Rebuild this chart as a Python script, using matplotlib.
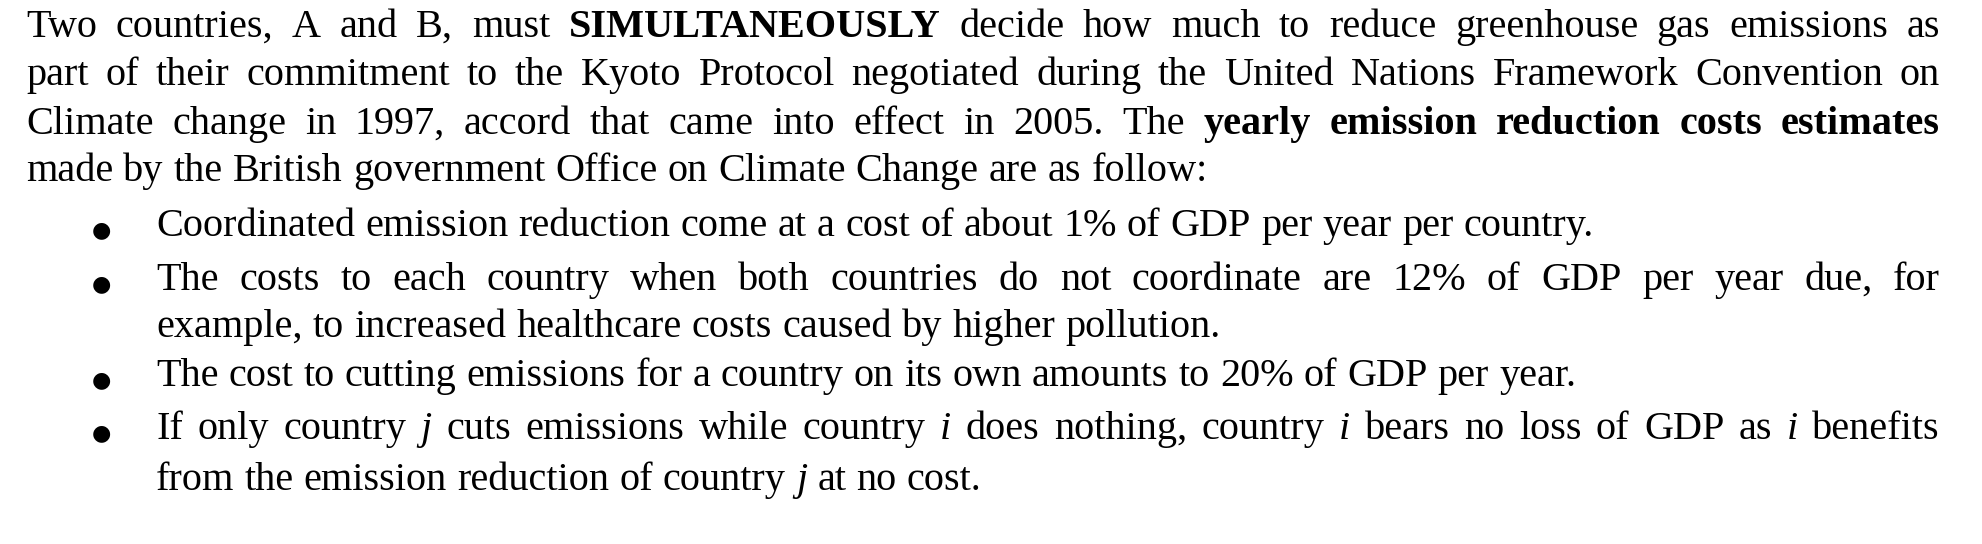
import matplotlib
matplotlib.use("Agg")
import matplotlib.pyplot as plt

W, H = 1982, 544
FS = 29
FAM = "Liberation Serif"

def N(s): return [(w, "n") for w in s.split()]
def B(s): return [(w, "b") for w in s.split()]
def I(s): return [(w, "i") for w in s.split()]

lines = [
    (26, 37, True, N("Two countries, A and B, must") + B("SIMULTANEOUSLY") + N("decide how much to reduce greenhouse gas emissions as")),
    (26, 85, True, N("part of their commitment to the Kyoto Protocol negotiated during the United Nations Framework Convention on")),
    (26, 134, True, N("Climate change in 1997, accord that came into effect in 2005. The") + B("yearly emission reduction costs estimates")),
    (26, 181, False, N("made by the British government Office on Climate Change are as follow:")),
    (156, 236, False, N("Coordinated emission reduction come at a cost of about 1% of GDP per year per country.")),
    (156, 290, True, N("The costs to each country when both countries do not coordinate are 12% of GDP per year due, for")),
    (156, 337, False, N("example, to increased healthcare costs caused by higher pollution.")),
    (156, 386, False, N("The cost to cutting emissions for a country on its own amounts to 20% of GDP per year.")),
    (156, 439, True, N("If only country") + I("j") + N("cuts emissions while country") + I("i") + N("does nothing, country") + I("i") + N("bears no loss of GDP as") + I("i") + N("benefits")),
    (156, 490, False, N("from the emission reduction of country") + I("j") + N("at no cost.")),
]
bullets_y = [236, 290, 386, 439]
RIGHT = 1940

fig = plt.figure(figsize=(W / 100, H / 100), dpi=100)
fig.patch.set_facecolor("white")
r = fig.canvas.get_renderer()

def kw(st, fs=FS):
    return dict(fontsize=fs, family=FAM, fontweight="bold" if st == "b" else "normal",
                fontstyle="italic" if st == "i" else "normal")

def space_w(fs):
    sp = fig.text(0, 0, "a a", **kw("n", fs))
    sa = fig.text(0, 0, "aa", **kw("n", fs))
    s = sp.get_window_extent(r).width - sa.get_window_extent(r).width
    sp.remove(); sa.remove()
    return s

for x0, yb, just, words in lines:
    fs = FS
    while True:
        arts = [fig.text(0, 0, w, va="baseline", ha="left", **kw(st, fs)) for w, st in words]
        widths = [a.get_window_extent(r).width for a in arts]
        space = space_w(fs)
        gap = space
        if just and len(words) > 1:
            gap = (RIGHT - x0 - sum(widths)) / (len(words) - 1)
        if gap >= 0.5 * space or fs < 20:
            break
        for a in arts:
            a.remove()
        fs -= 0.5
    x = x0
    for a, wd in zip(arts, widths):
        a.set_position((x / W, 1 - yb / H))
        x += wd + gap

for yb in bullets_y:
    fig.text(92 / W, 1 - yb / H, "\u25cf", va="baseline", ha="left", fontsize=FS * 0.55, family="DejaVu Sans")

fig.savefig("out.png", dpi=100, facecolor="white")
